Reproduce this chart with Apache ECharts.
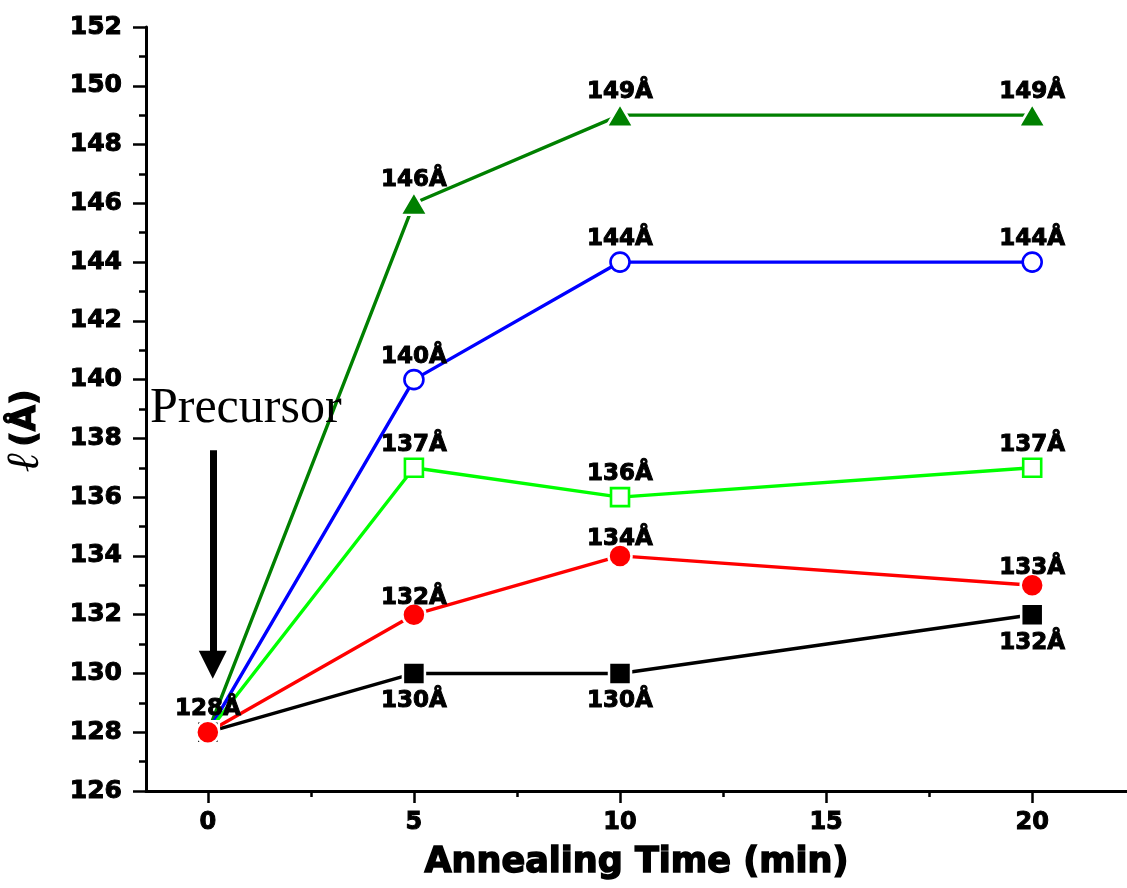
<!DOCTYPE html>
<html>
<head>
<meta charset="utf-8">
<script src="https://cdn.jsdelivr.net/npm/echarts@6/dist/echarts.min.js"></script>
<style>
html,body{margin:0;padding:0;background:#fff;}
#chart{width:1127px;height:888px;}
</style>
</head>
<body>
<div id="chart"></div>
<script>
// ---- data ----
const times = [0, 5, 10, 20];
const blackVals = [128, 130, 130, 132];
const redVals = [128, 132, 134, 133];
const lightGreenVals = [128, 137, 136, 137];
const blueVals = [128, 140, 144, 144];
const darkGreenVals = [128, 146, 149, 149];
const xTickValues = [0, 5, 10, 15, 20];
const xMinorTickValues = [2.5, 7.5, 12.5, 17.5];
const yMin = 126, yMax = 152, yStep = 2;
const xMin = -1.5, xMax = 22.3;
const precursorText = 'Precursor';
const precursorPos = [0.92, 139.0];
const arrowStart = [0.12, 137.6];
const arrowEnd = [0.12, 130.3];

const heavy = {textBorderColor: '#000', textBorderWidth: 1};
const labelFont = Object.assign({fontFamily: 'DejaVu Sans', fontWeight: 'bold', fontSize: 23, color: '#000'}, heavy);

function mkSeries(name, vals, color, symbol, size, open, labelDy, showFirst) {
  return {
    name: name,
    type: 'line',
    data: times.map((t, i) => ({
      value: [t, vals[i]],
      label: {show: i > 0 || showFirst}
    })),
    symbol: symbol,
    symbolSize: size,
    showAllSymbol: true,
    lineStyle: {color: color, width: 3.4},
    itemStyle: open
      ? {color: '#fff', borderColor: color, borderWidth: 2.6}
      : {color: color, borderColor: '#fff', borderWidth: 2.5},
    label: Object.assign({
      show: true,
      position: 'inside',
      offset: [0, labelDy],
      formatter: p => p.value[1] + 'Å'
    }, labelFont),
    emphasis: {disabled: true},
    z: 3
  };
}

const series = [
  mkSeries('darkgreen', darkGreenVals, '#008000', 'triangle', [27, 23], false, -23, true),
  mkSeries('blue', blueVals, '#0000ff', 'circle', 19, true, -23, false),
  mkSeries('lightgreen', lightGreenVals, '#00ff00', 'rect', 18, true, -23, false),
  mkSeries('black', blackVals, '#000000', 'rect', 22, false, 28, false),
  mkSeries('red', redVals, '#ff0000', 'circle', 23, false, -17, false),
  {
    type: 'line',
    data: [],
    silent: true,
    markLine: {
      silent: true,
      symbol: ['none', 'triangle'],
      symbolSize: [28, 28],
      lineStyle: {color: '#000', width: 7, type: 'solid'},
      label: {show: false},
      data: [[{coord: arrowStart}, {coord: arrowEnd}]],
      animation: false
    },
    markPoint: {
      silent: true,
      symbol: 'circle',
      symbolSize: 1,
      itemStyle: {color: 'rgba(0,0,0,0)'},
      label: {
        show: true, position: 'inside', formatter: precursorText,
        fontFamily: 'Liberation Serif', fontSize: 50, fontWeight: 'normal', color: '#000'
      },
      data: [{coord: precursorPos}],
      animation: false
    }
  }
];

const chart = echarts.init(document.getElementById('chart'), null, {renderer: 'canvas'});
chart.setOption({
  animation: false,
  backgroundColor: '#fff',
  grid: {left: 146, right: 0, top: 27, bottom: 97, containLabel: false, outerBoundsMode: 'none'},
  xAxis: [{
    type: 'value',
    min: xMin, max: xMax,
    name: 'Annealing Time (min)',
    nameLocation: 'middle',
    nameGap: 54,
    nameTextStyle: Object.assign({fontFamily: 'DejaVu Sans', fontWeight: 'bold', fontSize: 35, color: '#000'}, {textBorderColor: '#000', textBorderWidth: 1.5}),
    axisLine: {show: true, onZero: false, lineStyle: {color: '#000', width: 3}},
    axisTick: {show: true, inside: false, length: 12, customValues: xTickValues, lineStyle: {color: '#000', width: 2.5}},
    axisLabel: Object.assign({show: true, customValues: xTickValues, margin: 20, fontFamily: 'DejaVu Sans', fontWeight: 'bold', fontSize: 24, color: '#000'}, heavy),
    splitLine: {show: false}
  }, {
    type: 'value',
    position: 'bottom',
    min: xMin, max: xMax,
    axisLine: {show: false, onZero: false},
    axisTick: {show: true, inside: false, length: 6, customValues: xMinorTickValues, lineStyle: {color: '#000', width: 2.5}},
    axisLabel: {show: false},
    splitLine: {show: false}
  }],
  yAxis: {
    type: 'value',
    min: yMin, max: yMax, interval: yStep,
    name: '{l|ℓ}  {b|(Å)}',
    nameLocation: 'middle',
    nameGap: 97,
    nameRotate: 90,
    nameTextStyle: {
      padding: [0, 44, 0, 0],
      rich: {
        l: {fontFamily: 'DejaVu Serif', fontStyle: 'italic', fontSize: 46, color: '#000'},
        b: {fontFamily: 'DejaVu Sans', fontWeight: 'bold', fontSize: 34, color: '#000', textBorderColor: '#000', textBorderWidth: 1.2}
      }
    },
    axisLine: {show: true, onZero: false, lineStyle: {color: '#000', width: 3}},
    axisTick: {show: true, inside: false, length: 13, lineStyle: {color: '#000', width: 2.5}},
    minorTick: {show: true, splitNumber: 2, length: 7, lineStyle: {color: '#000', width: 2.5}},
    axisLabel: Object.assign({margin: 24, fontFamily: 'DejaVu Sans', fontWeight: 'bold', fontSize: 25, color: '#000'}, heavy),
    splitLine: {show: false},
    minorSplitLine: {show: false}
  },
  series: series
});
</script>
</body>
</html>
